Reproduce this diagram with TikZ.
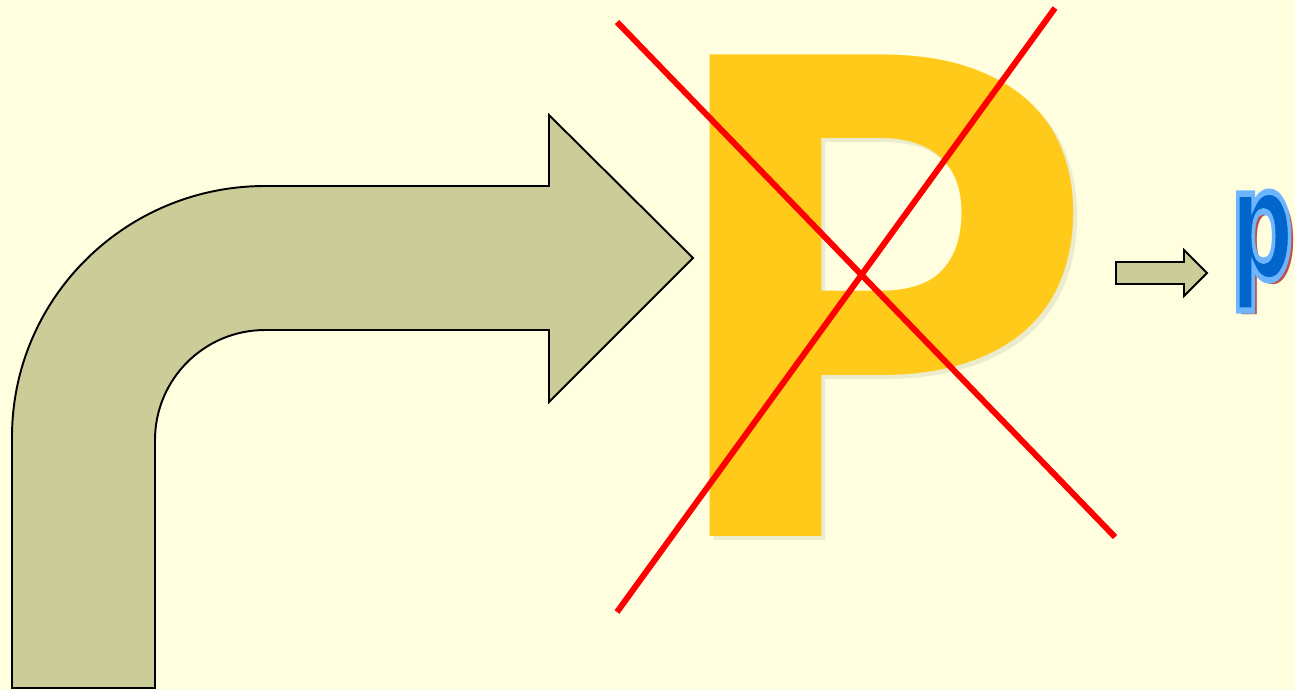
\documentclass[tikz,border=0pt]{standalone}
\usepackage{fontspec}
\setmainfont{DejaVu Sans}
\newfontfamily\heavyfont{Lato Black}
\usetikzlibrary{arrows,calc}

\definecolor{bgcol}{RGB}{255,255,224}
\definecolor{olivefill}{RGB}{204,204,153}
\definecolor{pgold}{RGB}{255,202,25}
\definecolor{pblue}{RGB}{0,102,204}
\definecolor{plight}{RGB}{110,180,255}
\definecolor{pshadow}{RGB}{170,20,20}

\newcommand{\outlined}[1]{\special{pdf:literal direct 2 Tr 1.8 w 0.43 0.71 1 RG}#1\special{pdf:literal direct 0 Tr}}

\tikzset{
  arrowshape/.style={fill=olivefill,draw=black,line width=0.55pt,line join=miter},
  crossline/.style={draw=red,line width=1.7pt},
  bigletter/.style={font=\fontsize{188}{190}\heavyfont,inner sep=0pt,xscale=1.0},
  smallletter/.style={font=\fontsize{44}{46}\selectfont\bfseries,inner sep=0pt,xscale=0.57}
}

\begin{document}
\begin{tikzpicture}[x=0.01cm,y=-0.01cm]
	\fill[bgcol] (0,0) rectangle (1295,690);
	\useasboundingbox (0,0) rectangle (1295,690);

	% big bent arrow
	\draw[arrowshape] (12,688) -- (12,437)
		arc[start angle=180,end angle=270,x radius=253,y radius=251]
		-- (549,186) -- (549,115) -- (693,258) -- (549,402) -- (549,330) -- (265,330)
		arc[start angle=270,end angle=180,radius=110]
		-- (155,688) -- cycle;

	% the P, crossed out
	\node[bigletter,text=black,opacity=0.08] at (878,300) {P};
	\node[bigletter,text=pgold] (bigP) at (874,296) {P};
	\coordinate (crossA) at (617,22);
	\coordinate (crossB) at (1115,537);
	\coordinate (crossC) at (617,612);
	\coordinate (crossD) at (1055,8);
	\draw[crossline] (crossA) -- (crossB);
	\draw[crossline] (crossC) -- (crossD);

	% small arrow
	\draw[arrowshape] (1116,262) -- (1184,262) -- (1184,250) -- (1207,273)
		-- (1184,296) -- (1184,284) -- (1116,284) -- cycle;

	% the small p
	\node[smallletter,text=pshadow,opacity=0.75] at (1266,255) {p};
	\node[smallletter,text=pblue] (smallp) at (1262,251) {\outlined{p}};
\end{tikzpicture}
\end{document}
